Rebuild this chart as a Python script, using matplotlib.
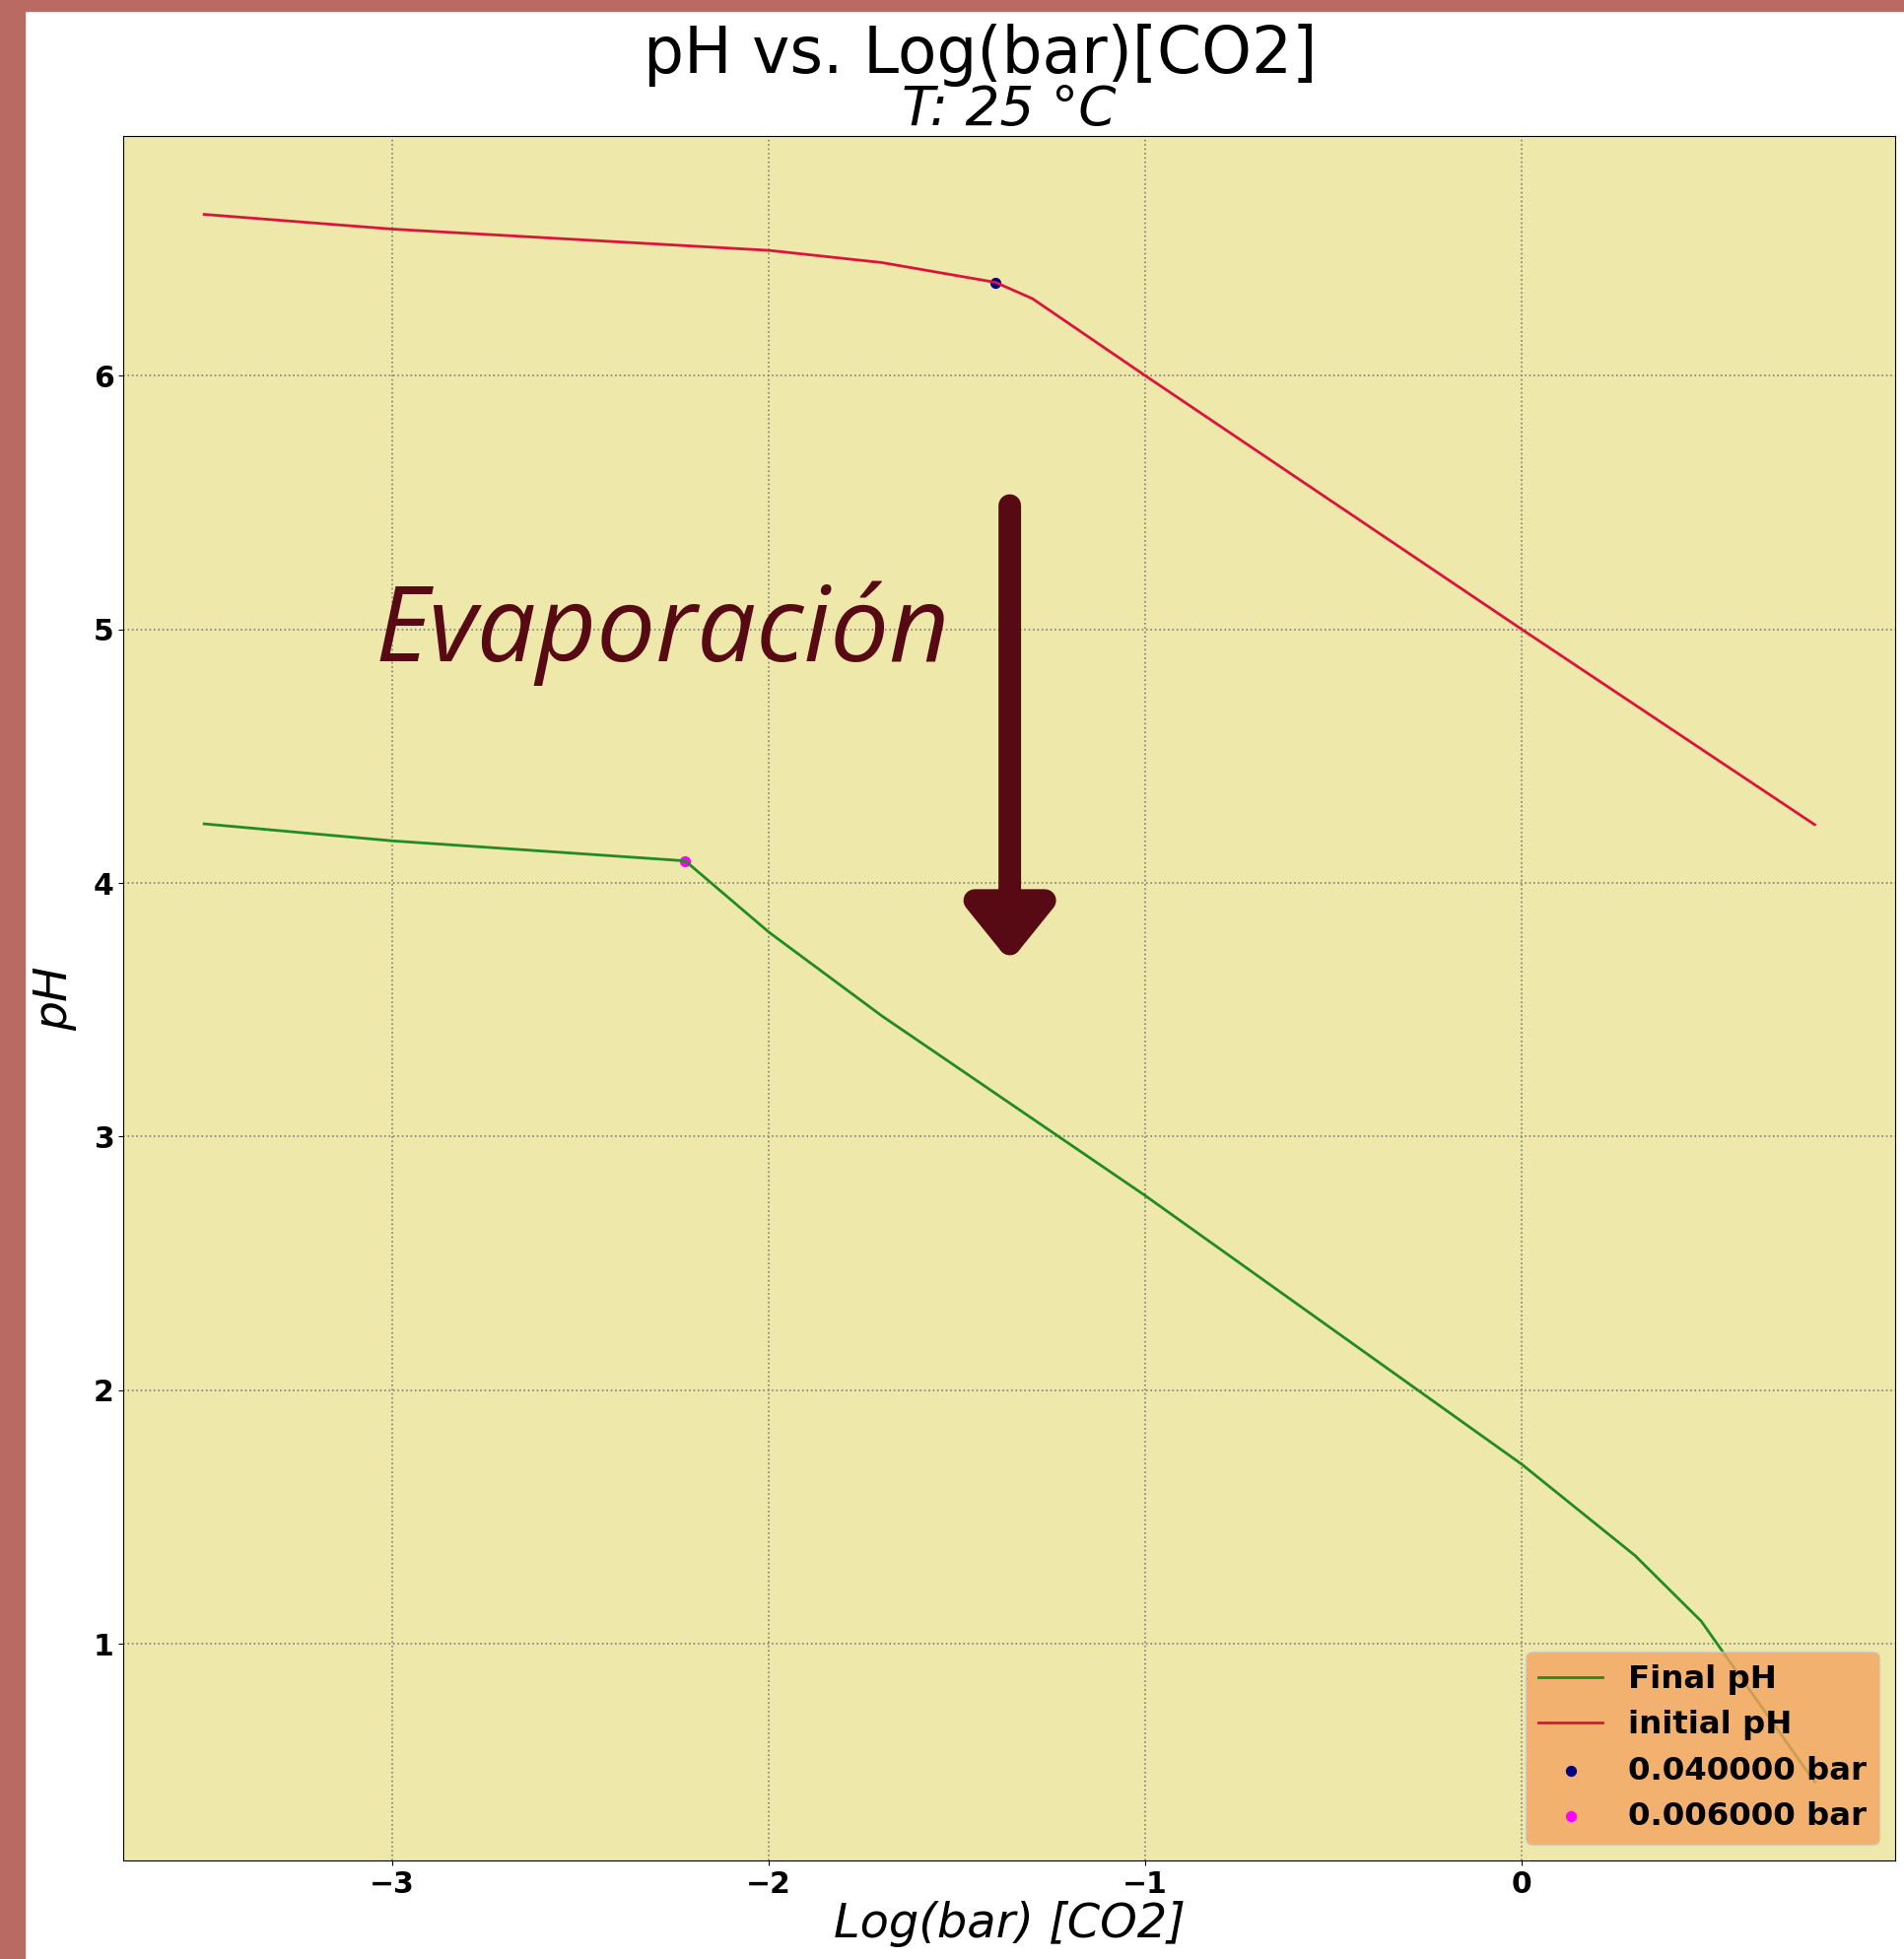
import numpy as np
import matplotlib
matplotlib.use("Agg")
import matplotlib.pyplot as plt
from matplotlib.patches import Rectangle

# ---- data ----
log_p_final = [-3.5, -3.0, -2.3, -2.222, -2.0, -1.7, -1.0, 0.0, 0.301, 0.477, 0.778]
ph_final = [4.233, 4.166, 4.095, 4.087, 3.806, 3.476, 2.767, 1.708, 1.348, 1.089, 0.455]

log_p_initial = [-3.5, -3.0, -2.0, -1.7, -1.398, -1.3, -1.0, 0.0, 0.778]
ph_initial = [6.636, 6.578, 6.494, 6.446, 6.368, 6.304, 6.0, 5.0, 4.23]

marker_pressures = [0.04, 0.006]
marker_ph = [6.368, 4.087]
marker_colors = ["navy", "magenta"]

title_main = "pH vs. Log(bar)[CO2]"
title_sub = "T: 25 °C"
annotation_text = "Evaporación"

W, H = 1932, 1988
fig = plt.figure(figsize=(W / 100, H / 100), dpi=100)
fig.patch.set_facecolor("white")

ax = fig.add_axes([125.5 / W, 1 - 1888 / H, (1923 - 125.5) / W, (1888 - 138) / H])
ax.set_facecolor("palegoldenrod")

# scatter markers for the two pressures
for p, ph, c in zip(marker_pressures, marker_ph, marker_colors):
    ax.scatter([np.log10(p)], [ph], s=50, color=c, label=f"{p:f} bar", zorder=1.5)

ax.plot(log_p_final, ph_final, color="forestgreen", lw=2, label="Final pH", zorder=2)
ax.plot(log_p_initial, ph_initial, color="crimson", lw=2, label="initial pH", zorder=2)

ax.grid(True, linestyle=":", color="gray", lw=1.2)
ax.set_axisbelow(True)

ax.tick_params(labelsize=21.5)
for lab in ax.get_xticklabels() + ax.get_yticklabels():
    lab.set_fontweight("bold")

ax.set_xlabel("Log(bar) [CO2]", fontsize=34.5, fontstyle="italic", labelpad=2)
ax.set_ylabel("pH", fontsize=34, fontstyle="italic", labelpad=12)
ax.set_title(title_sub, fontsize=39.5, fontstyle="italic", pad=5)
fig.text(995 / W, 1 - 74 / H, title_main, fontsize=46.5, ha="center", va="baseline")

handles, labels = ax.get_legend_handles_labels()
order = [labels.index("Final pH"), labels.index("initial pH"),
         labels.index(f"{marker_pressures[0]:f} bar"), labels.index(f"{marker_pressures[1]:f} bar")]
leg = ax.legend([handles[i] for i in order], [labels[i] for i in order],
                loc="lower right", facecolor="sandybrown", framealpha=0.8,
                prop={"weight": "bold", "size": 23.3}, labelspacing=0.47,
                handlelength=2.0, borderaxespad=0.5)

# annotation: text + arrow
ax.text(-3.046, 4.873, annotation_text, fontsize=76.5, family="Open Sans",
        fontstyle="italic", color="#580A14", ha="left", va="baseline")
ax.annotate("", xy=(-1.36, 3.689), xytext=(-1.36, 5.488),
            arrowprops=dict(arrowstyle="-|>,head_length=3.17,head_width=2.56",
                            lw=16.5, color="#580A14", capstyle="round",
                            joinstyle="round", shrinkA=0, shrinkB=0,
                            mutation_scale=10))

# frame strips (left and top)
fig.patches.append(Rectangle((0, 0), 25 / W, 1, transform=fig.transFigure,
                             color="#B96A62", zorder=10))
fig.patches.append(Rectangle((0, 1 - 11 / H), 1, 11 / H, transform=fig.transFigure,
                             color="#B96A62", zorder=10))

fig.savefig("out.png", dpi=100)
